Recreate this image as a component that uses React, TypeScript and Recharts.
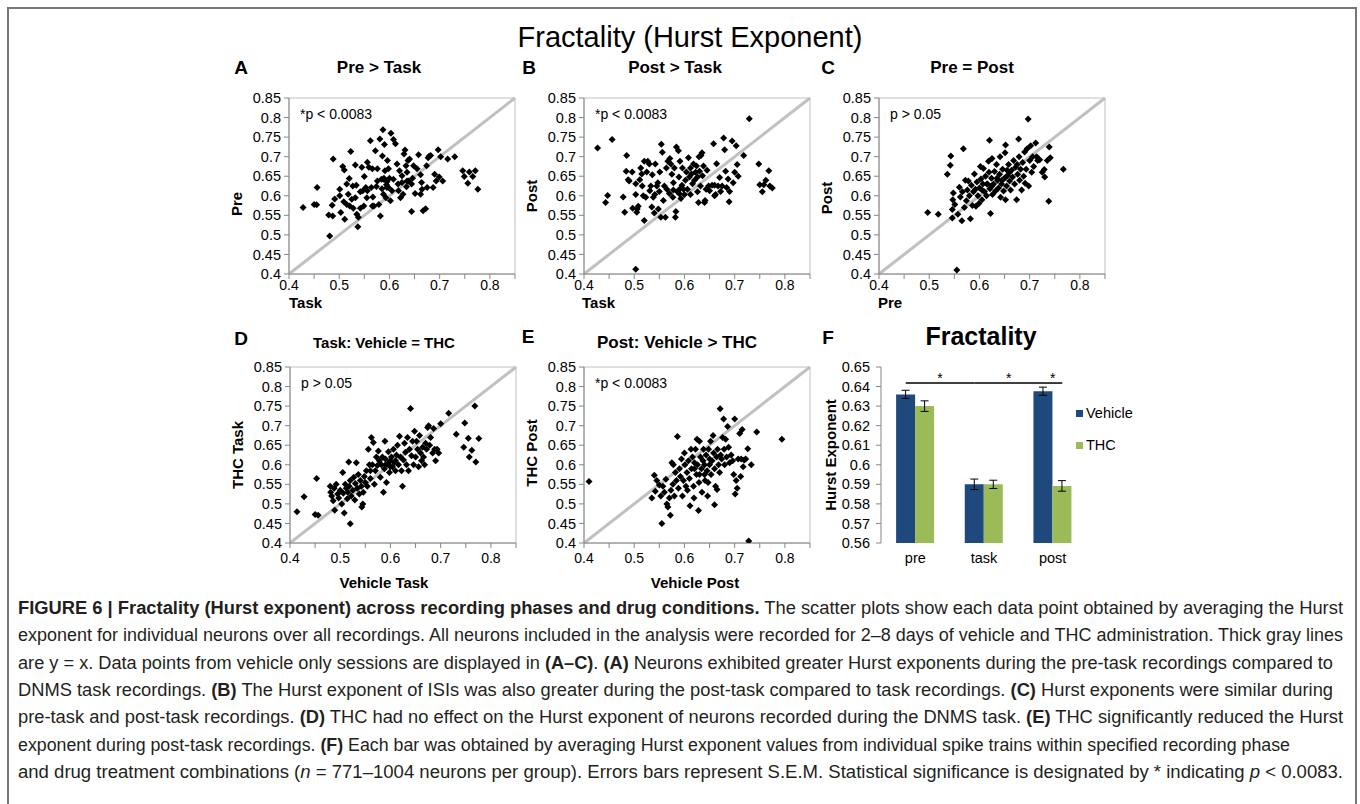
import React from "react";
import {
	ScatterChart,
	Scatter,
	XAxis,
	YAxis,
	ReferenceLine,
	ReferenceArea,
	BarChart,
	Bar,
	ErrorBar,
	Legend,
} from "recharts";

const FONT = '"Liberation Sans", Arial, Helvetica, sans-serif';
const NARROW = '"Liberation Sans Narrow", "Liberation Sans", Arial, sans-serif';
const AXIS = "#868686";
const BOX = "#c0c0c0";

// shared scatter axis ticks
const AXIS_TICKS = [0.4, 0.45, 0.5, 0.55, 0.6, 0.65, 0.7, 0.75, 0.8, 0.85];

// A: Task (x) vs Pre (y)
const PRE_VS_TASK: [number, number][] = [
	[0.428, 0.57], [0.45, 0.578], [0.455, 0.577], [0.456, 0.621], [0.488, 0.694], [0.481, 0.497],
	[0.479, 0.551], [0.487, 0.548], [0.486, 0.576], [0.491, 0.592], [0.501, 0.6], [0.501, 0.617],
	[0.507, 0.675], [0.51, 0.666], [0.503, 0.557], [0.511, 0.54], [0.518, 0.604], [0.52, 0.644],
	[0.523, 0.713], [0.515, 0.578], [0.521, 0.574], [0.525, 0.591], [0.528, 0.568], [0.532, 0.595],
	[0.534, 0.627], [0.532, 0.679], [0.535, 0.553], [0.537, 0.521], [0.538, 0.545], [0.542, 0.568],
	[0.545, 0.673], [0.547, 0.613], [0.549, 0.574], [0.55, 0.649], [0.553, 0.621], [0.555, 0.595],
	[0.556, 0.686], [0.559, 0.673], [0.562, 0.741], [0.564, 0.621], [0.566, 0.669], [0.567, 0.597],
	[0.569, 0.574], [0.572, 0.715], [0.574, 0.624], [0.576, 0.669], [0.579, 0.578], [0.581, 0.745],
	[0.582, 0.548], [0.584, 0.642], [0.585, 0.618], [0.586, 0.702], [0.587, 0.769], [0.588, 0.642],
	[0.588, 0.604], [0.59, 0.731], [0.591, 0.664], [0.593, 0.595], [0.595, 0.636], [0.596, 0.69],
	[0.598, 0.621], [0.6, 0.645], [0.602, 0.587], [0.603, 0.76], [0.605, 0.613], [0.608, 0.744],
	[0.608, 0.642], [0.612, 0.733], [0.615, 0.681], [0.617, 0.63], [0.62, 0.664], [0.622, 0.595],
	[0.625, 0.651], [0.627, 0.604], [0.629, 0.707], [0.631, 0.717], [0.633, 0.677], [0.634, 0.623],
	[0.635, 0.66], [0.637, 0.69], [0.64, 0.694], [0.644, 0.56], [0.644, 0.63], [0.646, 0.645],
	[0.648, 0.677], [0.651, 0.606], [0.655, 0.669], [0.658, 0.705], [0.662, 0.654], [0.664, 0.634],
	[0.665, 0.617], [0.667, 0.562], [0.672, 0.567], [0.674, 0.677], [0.677, 0.697], [0.679, 0.701],
	[0.682, 0.703], [0.687, 0.621], [0.69, 0.655], [0.693, 0.638], [0.697, 0.718], [0.699, 0.648],
	[0.702, 0.7], [0.706, 0.638], [0.716, 0.694], [0.73, 0.7], [0.746, 0.664], [0.749, 0.649],
	[0.756, 0.632], [0.759, 0.661], [0.766, 0.649], [0.771, 0.664], [0.776, 0.617], [0.589, 0.645],
	[0.594, 0.628], [0.635, 0.638], [0.625, 0.634], [0.576, 0.638], [0.566, 0.574], [0.556, 0.613],
	[0.542, 0.61], [0.527, 0.625], [0.515, 0.63], [0.509, 0.585], [0.595, 0.621], [0.675, 0.621],
	[0.662, 0.604], [0.618, 0.613], [0.638, 0.638], [0.598, 0.669],
];

// B: Task (x) vs Post (y)
const POST_VS_TASK: [number, number][] = [
	[0.427, 0.722], [0.456, 0.744], [0.443, 0.583], [0.447, 0.601], [0.478, 0.597], [0.481, 0.558],
	[0.485, 0.703], [0.484, 0.663], [0.488, 0.641], [0.49, 0.638], [0.496, 0.661], [0.497, 0.568],
	[0.503, 0.631], [0.503, 0.603], [0.505, 0.558], [0.506, 0.566], [0.508, 0.573], [0.511, 0.641],
	[0.513, 0.671], [0.515, 0.656], [0.516, 0.625], [0.518, 0.6], [0.52, 0.688], [0.52, 0.537],
	[0.523, 0.596], [0.525, 0.661], [0.527, 0.688], [0.53, 0.681], [0.531, 0.613], [0.533, 0.625],
	[0.535, 0.571], [0.536, 0.654], [0.538, 0.596], [0.54, 0.556], [0.541, 0.603], [0.542, 0.681],
	[0.545, 0.625], [0.548, 0.566], [0.55, 0.611], [0.551, 0.661], [0.553, 0.545], [0.554, 0.732],
	[0.556, 0.711], [0.558, 0.588], [0.56, 0.625], [0.562, 0.545], [0.564, 0.671], [0.565, 0.617],
	[0.567, 0.688], [0.57, 0.606], [0.571, 0.695], [0.573, 0.681], [0.575, 0.655], [0.577, 0.596],
	[0.578, 0.633], [0.58, 0.671], [0.582, 0.545], [0.583, 0.56], [0.584, 0.725], [0.586, 0.61],
	[0.588, 0.715], [0.589, 0.648], [0.59, 0.617], [0.591, 0.688], [0.593, 0.593], [0.595, 0.627],
	[0.596, 0.671], [0.598, 0.617], [0.6, 0.603], [0.602, 0.64], [0.604, 0.661], [0.606, 0.617],
	[0.608, 0.697], [0.61, 0.648], [0.612, 0.671], [0.614, 0.656], [0.616, 0.631], [0.618, 0.681],
	[0.62, 0.64], [0.622, 0.66], [0.624, 0.676], [0.626, 0.648], [0.628, 0.583], [0.629, 0.7],
	[0.63, 0.663], [0.632, 0.625], [0.633, 0.703], [0.635, 0.71], [0.636, 0.651], [0.638, 0.676],
	[0.64, 0.583], [0.641, 0.588], [0.643, 0.617], [0.645, 0.665], [0.648, 0.625], [0.65, 0.613],
	[0.655, 0.627], [0.658, 0.733], [0.66, 0.6], [0.662, 0.603], [0.664, 0.682], [0.667, 0.625],
	[0.67, 0.647], [0.672, 0.611], [0.675, 0.625], [0.678, 0.748], [0.68, 0.718], [0.682, 0.663],
	[0.684, 0.621], [0.687, 0.643], [0.689, 0.585], [0.69, 0.611], [0.695, 0.74], [0.697, 0.633],
	[0.7, 0.66], [0.703, 0.728], [0.705, 0.68], [0.707, 0.65], [0.718, 0.703], [0.729, 0.797],
	[0.748, 0.681], [0.75, 0.628], [0.755, 0.61], [0.758, 0.628], [0.762, 0.64], [0.768, 0.664],
	[0.77, 0.625], [0.775, 0.62], [0.503, 0.412], [0.59, 0.605], [0.612, 0.603], [0.66, 0.627],
	[0.626, 0.61], [0.578, 0.615], [0.547, 0.633],
];

// C: Pre (x) vs Post (y)
const POST_VS_PRE: [number, number][] = [
	[0.497, 0.557], [0.518, 0.553], [0.536, 0.655], [0.543, 0.702], [0.542, 0.678], [0.546, 0.543],
	[0.546, 0.565], [0.547, 0.59], [0.548, 0.607], [0.551, 0.578], [0.555, 0.41], [0.557, 0.553],
	[0.56, 0.622], [0.562, 0.597], [0.565, 0.536], [0.566, 0.61], [0.568, 0.72], [0.57, 0.57],
	[0.572, 0.64], [0.574, 0.587], [0.576, 0.615], [0.578, 0.638], [0.58, 0.6], [0.582, 0.541],
	[0.584, 0.627], [0.586, 0.575], [0.588, 0.61], [0.59, 0.656], [0.592, 0.617], [0.593, 0.573],
	[0.595, 0.635], [0.597, 0.6], [0.599, 0.58], [0.6, 0.62], [0.602, 0.675], [0.603, 0.643],
	[0.605, 0.59], [0.607, 0.63], [0.608, 0.67], [0.61, 0.61], [0.612, 0.65], [0.614, 0.6],
	[0.616, 0.63], [0.618, 0.688], [0.619, 0.66], [0.62, 0.742], [0.621, 0.618], [0.622, 0.555],
	[0.624, 0.645], [0.625, 0.695], [0.626, 0.603], [0.628, 0.63], [0.63, 0.662], [0.632, 0.612],
	[0.634, 0.68], [0.636, 0.64], [0.638, 0.62], [0.64, 0.655], [0.641, 0.7], [0.642, 0.596],
	[0.644, 0.63], [0.646, 0.668], [0.648, 0.612], [0.65, 0.645], [0.651, 0.71], [0.652, 0.73],
	[0.652, 0.59], [0.654, 0.625], [0.656, 0.652], [0.658, 0.68], [0.66, 0.638], [0.662, 0.615],
	[0.664, 0.665], [0.666, 0.648], [0.668, 0.69], [0.67, 0.63], [0.672, 0.673], [0.674, 0.59],
	[0.676, 0.655], [0.678, 0.745], [0.679, 0.7], [0.68, 0.64], [0.682, 0.668], [0.684, 0.615],
	[0.686, 0.685], [0.688, 0.65], [0.69, 0.712], [0.691, 0.632], [0.693, 0.668], [0.695, 0.72],
	[0.697, 0.796], [0.698, 0.625], [0.7, 0.69], [0.702, 0.728], [0.704, 0.66], [0.706, 0.7],
	[0.708, 0.675], [0.712, 0.735], [0.714, 0.7], [0.716, 0.69], [0.72, 0.692], [0.725, 0.66],
	[0.729, 0.667], [0.73, 0.648], [0.735, 0.69], [0.738, 0.586], [0.739, 0.725], [0.741, 0.697],
	[0.767, 0.668], [0.615, 0.63], [0.635, 0.645], [0.655, 0.665], [0.675, 0.68], [0.66, 0.66],
	[0.645, 0.64], [0.625, 0.625], [0.605, 0.615],
];

// D: Vehicle task (x) vs THC task (y)
const TASK_THC_VS_VEH: [number, number][] = [
	[0.414, 0.48], [0.428, 0.518], [0.45, 0.473], [0.453, 0.565], [0.456, 0.471], [0.48, 0.545],
	[0.481, 0.53], [0.483, 0.52], [0.486, 0.508], [0.488, 0.54], [0.489, 0.484], [0.492, 0.55],
	[0.495, 0.525], [0.497, 0.515], [0.5, 0.535], [0.503, 0.5], [0.505, 0.58], [0.506, 0.527],
	[0.508, 0.477], [0.51, 0.55], [0.512, 0.54], [0.514, 0.513], [0.515, 0.53], [0.517, 0.607],
	[0.518, 0.545], [0.52, 0.449], [0.52, 0.56], [0.522, 0.52], [0.525, 0.535], [0.527, 0.568],
	[0.529, 0.51], [0.53, 0.552], [0.532, 0.605], [0.534, 0.54], [0.536, 0.575], [0.538, 0.525],
	[0.54, 0.56], [0.542, 0.545], [0.543, 0.492], [0.545, 0.5], [0.546, 0.53], [0.548, 0.57],
	[0.55, 0.555], [0.552, 0.585], [0.554, 0.545], [0.556, 0.64], [0.558, 0.6], [0.56, 0.565],
	[0.562, 0.67], [0.564, 0.6], [0.566, 0.657], [0.568, 0.55], [0.57, 0.585], [0.572, 0.62],
	[0.574, 0.598], [0.576, 0.635], [0.578, 0.61], [0.58, 0.568], [0.582, 0.6], [0.584, 0.62],
	[0.586, 0.53], [0.588, 0.59], [0.589, 0.66], [0.59, 0.615], [0.592, 0.555], [0.594, 0.602],
	[0.596, 0.633], [0.598, 0.58], [0.6, 0.61], [0.602, 0.62], [0.604, 0.595], [0.606, 0.64],
	[0.608, 0.605], [0.61, 0.585], [0.612, 0.625], [0.614, 0.65], [0.616, 0.6], [0.618, 0.673],
	[0.62, 0.62], [0.622, 0.585], [0.624, 0.545], [0.626, 0.612], [0.628, 0.655], [0.63, 0.632],
	[0.632, 0.6], [0.634, 0.67], [0.636, 0.585], [0.638, 0.64], [0.64, 0.744], [0.642, 0.623],
	[0.644, 0.66], [0.646, 0.6], [0.648, 0.686], [0.65, 0.62], [0.652, 0.66], [0.654, 0.64],
	[0.656, 0.595], [0.658, 0.675], [0.66, 0.63], [0.662, 0.61], [0.664, 0.645], [0.666, 0.62],
	[0.668, 0.6], [0.67, 0.655], [0.672, 0.64], [0.674, 0.695], [0.676, 0.7], [0.678, 0.65],
	[0.68, 0.67], [0.684, 0.63], [0.686, 0.693], [0.688, 0.64], [0.69, 0.61], [0.693, 0.64],
	[0.696, 0.63], [0.7, 0.705], [0.716, 0.732], [0.731, 0.678], [0.746, 0.645], [0.748, 0.707],
	[0.755, 0.668], [0.757, 0.62], [0.762, 0.637], [0.768, 0.75], [0.77, 0.607], [0.776, 0.667],
	[0.59, 0.6], [0.61, 0.61], [0.6, 0.595], [0.56, 0.585],
];

// E: Vehicle post (x) vs THC post (y)
const POST_THC_VS_VEH: [number, number][] = [
	[0.41, 0.557], [0.535, 0.515], [0.54, 0.573], [0.542, 0.532], [0.545, 0.56], [0.55, 0.548],
	[0.553, 0.52], [0.555, 0.45], [0.557, 0.545], [0.56, 0.53], [0.563, 0.563], [0.565, 0.5],
	[0.567, 0.492], [0.57, 0.515], [0.572, 0.471], [0.573, 0.535], [0.575, 0.605], [0.577, 0.55],
	[0.578, 0.6], [0.58, 0.52], [0.582, 0.58], [0.584, 0.56], [0.586, 0.672], [0.588, 0.54],
	[0.59, 0.59], [0.592, 0.57], [0.594, 0.615], [0.596, 0.52], [0.598, 0.56], [0.6, 0.63],
	[0.601, 0.6], [0.603, 0.545], [0.605, 0.58], [0.606, 0.535], [0.608, 0.61], [0.61, 0.565],
	[0.611, 0.495], [0.613, 0.64], [0.614, 0.59], [0.616, 0.62], [0.618, 0.545], [0.619, 0.515],
	[0.62, 0.605], [0.622, 0.64], [0.624, 0.575], [0.625, 0.665], [0.626, 0.6], [0.628, 0.483],
	[0.629, 0.555], [0.63, 0.66], [0.632, 0.62], [0.634, 0.59], [0.635, 0.53], [0.637, 0.61],
	[0.638, 0.64], [0.64, 0.575], [0.641, 0.56], [0.643, 0.625], [0.645, 0.585], [0.646, 0.52],
	[0.647, 0.555], [0.648, 0.64], [0.65, 0.6], [0.652, 0.66], [0.653, 0.575], [0.655, 0.61],
	[0.657, 0.675], [0.658, 0.63], [0.66, 0.498], [0.66, 0.59], [0.662, 0.545], [0.664, 0.62],
	[0.665, 0.537], [0.666, 0.64], [0.668, 0.6], [0.67, 0.58], [0.671, 0.743], [0.672, 0.625],
	[0.674, 0.615], [0.676, 0.67], [0.678, 0.717], [0.679, 0.64], [0.68, 0.6], [0.682, 0.665],
	[0.684, 0.62], [0.686, 0.698], [0.688, 0.645], [0.69, 0.605], [0.693, 0.625], [0.696, 0.61],
	[0.698, 0.575], [0.7, 0.717], [0.701, 0.525], [0.703, 0.56], [0.705, 0.54], [0.707, 0.615],
	[0.71, 0.68], [0.712, 0.57], [0.713, 0.615], [0.715, 0.69], [0.717, 0.595], [0.719, 0.612],
	[0.722, 0.615], [0.726, 0.641], [0.728, 0.405], [0.733, 0.6], [0.744, 0.684], [0.794, 0.665],
	[0.62, 0.59], [0.64, 0.6], [0.63, 0.575], [0.65, 0.615],
];

// F: bar chart
const PHASES = ["pre", "task", "post"];
const SERIES = ["Vehicle", "THC"];
const VEHICLE_MEAN = [0.636, 0.59, 0.6376];
const THC_MEAN = [0.63, 0.59, 0.5892];
const VEHICLE_SEM = [0.0021, 0.0027, 0.0021];
const THC_SEM = [0.0027, 0.0021, 0.0027];
const BAR_TICKS = [0.56, 0.57, 0.58, 0.59, 0.6, 0.61, 0.62, 0.63, 0.64, 0.65];
// significant comparisons: [phase index, series] -> [phase index, series]
const SIG_PAIRS: [number, string, number, string][] = [
	[0, "Vehicle", 1, "Vehicle"],
	[1, "Vehicle", 2, "Vehicle"],
	[2, "Vehicle", 2, "THC"],
];
const SIG_LEVEL = 0.6418;

const CAPTION: { t: string; b?: boolean; i?: boolean }[][] = [
	[
		{ t: "FIGURE 6 | Fractality (Hurst exponent) across recording phases and drug conditions.", b: true },
		{ t: " The scatter plots show each data point obtained by averaging the Hurst" },
	],
	[{ t: "exponent for individual neurons over all recordings. All neurons included in the analysis were recorded for 2–8 days of vehicle and THC administration. Thick gray lines" }],
	[
		{ t: "are y = x. Data points from vehicle only sessions are displayed in " },
		{ t: "(A–C)", b: true },
		{ t: ". " },
		{ t: "(A)", b: true },
		{ t: " Neurons exhibited greater Hurst exponents during the pre-task recordings compared to" },
	],
	[
		{ t: "DNMS task recordings. " },
		{ t: "(B)", b: true },
		{ t: " The Hurst exponent of ISIs was also greater during the post-task compared to task recordings. " },
		{ t: "(C)", b: true },
		{ t: " Hurst exponents were similar during" },
	],
	[
		{ t: "pre-task and post-task recordings. " },
		{ t: "(D)", b: true },
		{ t: " THC had no effect on the Hurst exponent of neurons recorded during the DNMS task. " },
		{ t: "(E)", b: true },
		{ t: " THC significantly reduced the Hurst" },
	],
	[
		{ t: "exponent during post-task recordings. " },
		{ t: "(F)", b: true },
		{ t: " Each bar was obtained by averaging Hurst exponent values from individual spike trains within specified recording phase" },
	],
	[
		{ t: "and drug treatment combinations (" },
		{ t: "n", i: true },
		{ t: " = 771–1004 neurons per group). Errors bars represent S.E.M. Statistical significance is designated by * indicating " },
		{ t: "p", i: true },
		{ t: " < 0.0083." },
	],
];
const CAPTION_WIDTHS = [1325, 1325, 1315, 1315, 1325, 1272, 1325];

const PW = 226;
const PH = 176;
const YW = 70;

const PANELS = [
	{ letter: "A", title: "Pre > Task", titleSize: 17, lx: 241, ly: 67, tx: 379, ty: 67, left: 289, top: 98, xTitle: "Task", xMid: false, xdx: 0, xdy: 34, yTitle: "Pre", ydy: 18, p: "*p < 0.0083", data: PRE_VS_TASK },
	{ letter: "B", title: "Post > Task", titleSize: 17, lx: 529, ly: 67, tx: 675, ty: 67, left: 584, top: 98, xTitle: "Task", xMid: false, xdx: -2, xdy: 34, yTitle: "Post", ydy: 10, p: "*p < 0.0083", data: POST_VS_TASK },
	{ letter: "C", title: "Pre = Post", titleSize: 17, lx: 828, ly: 67, tx: 972, ty: 67, left: 879, top: 98, xTitle: "Pre", xMid: false, xdx: -1, xdy: 34, yTitle: "Post", ydy: 12, p: "p > 0.05", data: POST_VS_PRE },
	{ letter: "D", title: "Task: Vehicle = THC", titleSize: 15, lx: 241, ly: 338, tx: 384, ty: 342, left: 290, top: 367, xTitle: "Vehicle Task", xMid: true, xdx: 94, xdy: 45, yTitle: "THC Task", ydy: 0, p: "p > 0.05", data: TASK_THC_VS_VEH },
	{ letter: "E", title: "Post: Vehicle > THC", titleSize: 17, lx: 528, ly: 336, tx: 677, ty: 342, left: 584, top: 367, xTitle: "Vehicle Post", xMid: true, xdx: 111, xdy: 45, yTitle: "THC Post", ydy: -2, p: "*p < 0.0083", data: POST_THC_VS_VEH },
];

const Diamond = (props: any) => {
	const { cx, cy } = props;
	if (cx == null || cy == null) return null;
	const r = 3.5;
	return <path d={`M${cx} ${cy - r}L${cx + r} ${cy}L${cx} ${cy + r}L${cx - r} ${cy}Z`} fill="#000" />;
};

const fmtX = (v: number) => (Math.round(v * 100) % 10 === 0 ? String(v) : "");

function Heading({ x, y, size, children }: any) {
	return (
		<div
			style={{
				position: "absolute",
				left: x,
				top: y,
				transform: "translate(-50%, -50%)",
				fontSize: size,
				fontWeight: "bold",
				whiteSpace: "nowrap",
				lineHeight: 1,
			}}
		>
			{children}
		</div>
	);
}

function ScatterPanel({ cfg }: any) {
	const pts = cfg.data.map(([x, y]: [number, number]) => ({ x, y }));
	const topRow = cfg.top < 200;
	return (
		<>
			<Heading x={cfg.lx} y={cfg.ly} size={19}>{cfg.letter}</Heading>
			<Heading x={cfg.tx} y={cfg.ty} size={cfg.titleSize}>{cfg.title}</Heading>
			<div style={{ position: "absolute", left: cfg.left - YW, top: cfg.top - 10 }}>
				<ScatterChart width={YW + PW + 12} height={10 + PH + 50} margin={{ top: 10, right: 12, bottom: 0, left: 0 }}>
					<XAxis
						type="number"
						dataKey="x"
						domain={[0.4, 0.85]}
						ticks={AXIS_TICKS}
						interval={0}
						allowDataOverflow
						tickFormatter={fmtX}
						height={50}
						tickSize={5}
						tickMargin={topRow ? 1 : 5}
						axisLine={{ stroke: AXIS }}
						tickLine={{ stroke: AXIS }}
						tick={{ fill: "#000", fontSize: 14 }}
						label={(p: any) => (
							<text
								x={p.viewBox.x + cfg.xdx}
								y={p.viewBox.y + cfg.xdy}
								textAnchor={cfg.xMid ? "middle" : "start"}
								fontWeight="bold"
								fontSize={15}
								fill="#000"
							>
								{cfg.xTitle}
							</text>
						)}
					/>
					<YAxis
						type="number"
						dataKey="y"
						domain={[0.4, 0.85]}
						ticks={AXIS_TICKS}
						interval={0}
						allowDataOverflow
						width={YW}
						tickSize={5}
						tickMargin={3}
						axisLine={{ stroke: AXIS }}
						tickLine={{ stroke: AXIS }}
						tick={{ fill: "#000", fontSize: 14.5 }}
						label={(p: any) => {
							const x = p.viewBox.x + YW - 53;
							const y = p.viewBox.y + p.viewBox.height / 2 + cfg.ydy;
							return (
								<text
									x={x}
									y={y}
									transform={`rotate(-90 ${x} ${y})`}
									textAnchor="middle"
									dominantBaseline="central"
									fontWeight="bold"
									fontSize={15}
									fill="#000"
								>
									{cfg.yTitle}
								</text>
							);
						}}
					/>
					<ReferenceArea
						x1={0.4}
						x2={0.85}
						y1={0.4}
						y2={0.85}
						fill="none"
						stroke={BOX}
						strokeWidth={1}
						label={{ value: cfg.p, position: "insideTopLeft", offset: 11, fill: "#000", fontSize: 14 }}
					/>
					<ReferenceLine
						segment={[
							{ x: 0.4, y: 0.4 },
							{ x: 0.85, y: 0.85 },
						]}
						stroke={BOX}
						strokeWidth={3}
					/>
					<Scatter data={pts} shape={Diamond} isAnimationActive={false} />
				</ScatterChart>
			</div>
		</>
	);
}

const barData = PHASES.map((phase, i) => ({
	phase,
	pos: i,
	Vehicle: VEHICLE_MEAN[i],
	THC: THC_MEAN[i],
	vehicleSem: VEHICLE_SEM[i],
	thcSem: THC_SEM[i],
}));

// half a bar, in category units (bars fill 56% of each category)
const BAR_OFFSET = 0.14;
const sigX = (idx: number, series: string) => idx + (series === "Vehicle" ? -BAR_OFFSET : BAR_OFFSET);

const renderLegend = (props: any) => {
	const items = [...(props.payload || [])].sort(
		(a: any, b: any) => SERIES.indexOf(a.value) - SERIES.indexOf(b.value)
	);
	return (
		<div style={{ fontSize: 14.5 }}>
			{items.map((e: any) => (
				<div key={e.value} style={{ display: "flex", alignItems: "center", height: 32 }}>
					<span style={{ width: 7, height: 7, background: e.color, marginRight: 3, display: "inline-block" }} />
					{e.value}
				</div>
			))}
		</div>
	);
};

function BarPanel() {
	const left = 881;
	const top = 367;
	const bw = 206;
	return (
		<>
			<Heading x={828} y={337} size={19}>F</Heading>
			<Heading x={981} y={336} size={25}>Fractality</Heading>
			<div style={{ position: "absolute", left: left - 60, top: top - 10 }}>
				<BarChart
					width={60 + bw + 80}
					height={10 + PH + 30}
					data={barData}
					margin={{ top: 10, right: 80, bottom: 0, left: 0 }}
					barCategoryGap="22%"
					barGap={0}
				>
					<XAxis
						xAxisId="num"
						type="number"
						dataKey="pos"
						domain={[-0.5, 2.5]}
						ticks={[-0.5, 0.5, 1.5, 2.5]}
						allowDataOverflow
						tick={false}
						height={0}
						tickSize={5}
						axisLine={{ stroke: AXIS }}
						tickLine={{ stroke: AXIS }}
					/>
					<XAxis
						xAxisId="cat"
						dataKey="phase"
						height={30}
						axisLine={false}
						tickLine={false}
						tickSize={6}
						tickMargin={4}
						tick={{ fill: "#000", fontSize: 14.5 }}
					/>
					<YAxis
						domain={[0.56, 0.65]}
						ticks={BAR_TICKS}
						interval={0}
						allowDataOverflow
						width={60}
						tickSize={5}
						tickMargin={6}
						axisLine={{ stroke: AXIS }}
						tickLine={{ stroke: AXIS }}
						tick={{ fill: "#000", fontSize: 14.5 }}
						label={(p: any) => {
							const x = p.viewBox.x + 9;
							const y = p.viewBox.y + p.viewBox.height / 2;
							return (
								<text
									x={x}
									y={y}
									transform={`rotate(-90 ${x} ${y})`}
									textAnchor="middle"
									dominantBaseline="central"
									fontWeight="bold"
									fontSize={15}
									fill="#000"
								>
									Hurst Exponent
								</text>
							);
						}}
					/>
					<Bar xAxisId="cat" dataKey="Vehicle" fill="#1F497D" isAnimationActive={false}>
						<ErrorBar dataKey="vehicleSem" width={4} stroke="#000" strokeWidth={1} />
					</Bar>
					<Bar xAxisId="cat" dataKey="THC" fill="#9BBB59" isAnimationActive={false}>
						<ErrorBar dataKey="thcSem" width={4} stroke="#000" strokeWidth={1} />
					</Bar>
					{SIG_PAIRS.map(([i1, s1, i2, s2], k) => (
						<ReferenceLine
							key={k}
							xAxisId="num"
							segment={[
								{ x: sigX(i1, s1), y: SIG_LEVEL },
								{ x: sigX(i2, s2), y: SIG_LEVEL },
							]}
							stroke="#000"
							strokeWidth={1.5}
							label={{ value: "*", position: "top", offset: 0, fill: "#000", fontSize: 14 }}
						/>
					))}
					<Legend
						layout="vertical"
						align="center"
						verticalAlign="middle"
						content={renderLegend}
						wrapperStyle={{ left: 255, top: 40, width: 90 }}
					/>
				</BarChart>
			</div>
		</>
	);
}

function Caption() {
	return (
		<svg width={1360} height={214} style={{ position: "absolute", left: 0, top: 590 }}>
			{CAPTION.map((segs, i) => (
				<text
					key={i}
					x={18}
					y={24 + 27.3 * i}
					fontSize={17.5}
					fontFamily={NARROW}
					fill="#231f20"
					textLength={CAPTION_WIDTHS[i]}
					lengthAdjust="spacingAndGlyphs"
					style={{ whiteSpace: "pre" }}
				>
					{segs.map((s, j) => (
						<tspan key={j} fontWeight={s.b ? "bold" : undefined} fontStyle={s.i ? "italic" : undefined}>
							{s.t}
						</tspan>
					))}
				</text>
			))}
		</svg>
	);
}

export default function App() {
	return (
		<div
			style={{
				position: "absolute",
				left: 0,
				top: 0,
				width: 1360,
				height: 804,
				overflow: "hidden",
				background: "#fff",
				fontFamily: FONT,
				color: "#000",
			}}
		>
			<div
				style={{
					position: "absolute",
					left: 7,
					top: 7,
					width: 1350,
					height: 830,
					border: "2px solid #777",
					boxSizing: "border-box",
				}}
			/>
			<div
				style={{
					position: "absolute",
					left: 690,
					top: 37,
					transform: "translate(-50%, -50%)",
					fontSize: 29,
					whiteSpace: "nowrap",
					lineHeight: 1,
				}}
			>
				Fractality (Hurst Exponent)
			</div>
			{PANELS.map((cfg) => (
				<ScatterPanel key={cfg.letter} cfg={cfg} />
			))}
			<BarPanel />
			<Caption />
		</div>
	);
}
